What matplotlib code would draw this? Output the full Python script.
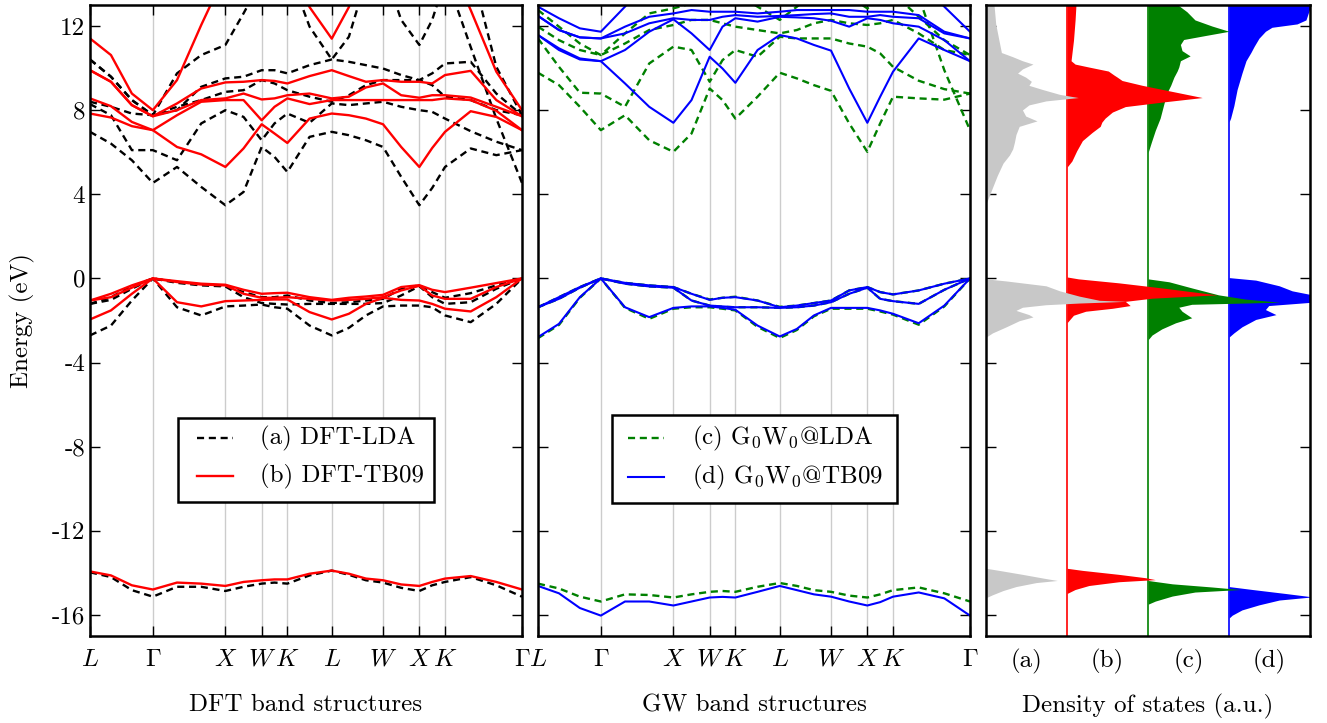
import numpy as np
import matplotlib
matplotlib.use('Agg')
import matplotlib.pyplot as plt
from matplotlib.patches import Rectangle
from matplotlib.lines import Line2D

plt.rcParams['font.family'] = ['cmr10', 'DejaVu Serif']
plt.rcParams['mathtext.fontset'] = 'cm'
plt.rcParams['axes.unicode_minus'] = False
plt.rcParams['font.size'] = 18

# ---------------- k-path ----------------
K_TICKS = [0.0, 0.866, 1.866, 2.366, 2.720, 3.332, 4.039, 4.539, 4.893, 5.954]
K_LABELS = [r'$L$', r'$\Gamma$', r'$X$', r'$W$', r'$K$', r'$L$', r'$W$', r'$X$', r'$K$', r'$\Gamma$']
K_PATH = [0.0, 0.289, 0.577, 0.866, 1.199, 1.533, 1.866, 2.116, 2.366, 2.543,
          2.720, 3.026, 3.332, 3.568, 3.803, 4.039, 4.289, 4.539, 4.716, 4.893,
          5.247, 5.600, 5.954]

# ---------------- DFT-LDA (a) ----------------
LDA_COND = [
    [6.97, 6.41, 5.62, 4.54, 5.30, 4.35, 3.48, 4.11, 6.25, 5.78, 5.06, 6.73, 6.97, 6.81, 6.57, 6.25, 4.83, 3.48, 4.30, 5.30, 6.18, 5.86, 6.10],
    [8.29, 7.76, 6.10, 6.10, 5.62, 7.37, 8.00, 7.68, 6.57, 7.37, 7.84, 7.40, 8.32, 8.24, 8.32, 8.40, 8.16, 8.00, 7.92, 7.60, 7.00, 6.50, 6.10],
    [8.40, 8.16, 7.84, 7.76, 8.16, 8.48, 8.87, 8.95, 9.43, 9.27, 8.95, 8.64, 8.40, 8.71, 9.19, 9.43, 9.43, 9.43, 9.19, 8.64, 8.48, 8.00, 7.76],
    [10.41, 9.59, 8.48, 7.76, 8.00, 9.11, 9.51, 9.59, 9.90, 9.90, 9.75, 10.14, 10.41, 10.30, 10.14, 9.98, 9.67, 9.43, 9.75, 10.22, 10.30, 8.79, 7.76],
    [10.41, 9.59, 8.48, 7.76, 9.75, 10.62, 11.10, 12.60, 14.19, 14.83, 14.83, 11.97, 10.41, 11.49, 14.19, 14.83, 12.29, 11.10, 12.29, 14.19, 14.83, 10.06, 7.76],
    [15.0, 15.0, 15.0, 15.0, 15.0, 15.0, 15.0, 15.0, 15.0, 15.0, 15.0, 15.0, 15.0, 15.0, 15.0, 15.0, 15.0, 15.0, 15.0, 14.5, 11.00, 7.60, 4.54],
]
LDA_VAL = [
    [-1.21, -0.89, -0.38, 0.0, -0.17, -0.29, -0.35, -0.65, -0.89, -0.89, -0.81, -1.05, -1.17, -1.13, -1.05, -0.97, -0.49, -0.33, -0.65, -0.92, -0.70, -0.33, 0.0],
    [-1.21, -1.02, -0.49, 0.0, -0.21, -0.33, -0.38, -0.89, -1.17, -1.21, -1.24, -1.21, -1.21, -1.21, -1.21, -1.17, -0.81, -0.37, -0.89, -1.21, -1.13, -0.49, 0.0],
    [-2.71, -2.24, -1.05, 0.0, -1.37, -1.76, -1.33, -1.29, -1.24, -1.37, -1.44, -2.24, -2.71, -2.35, -1.76, -1.33, -1.29, -1.29, -1.37, -1.76, -2.08, -1.21, 0.0],
]
LDA_CORE = [-13.97, -14.20, -14.82, -15.13, -14.66, -14.66, -14.86, -14.66, -14.51, -14.46, -14.51, -14.12, -13.89, -14.09, -14.35, -14.46, -14.71, -14.86, -14.59, -14.43, -14.20, -14.59, -15.13]

# ---------------- DFT-TB09 (b) ----------------
TB09_COND = [
    [7.84, 7.65, 7.24, 7.05, 6.25, 5.90, 5.30, 6.18, 7.33, 6.89, 6.44, 7.60, 7.84, 7.76, 7.60, 7.33, 6.25, 5.30, 6.20, 6.97, 7.95, 7.68, 7.05],
    [8.56, 8.19, 7.44, 7.05, 7.76, 8.40, 8.48, 8.48, 7.52, 8.16, 8.56, 8.29, 8.48, 8.48, 8.48, 8.48, 8.48, 8.48, 8.48, 8.56, 8.48, 7.97, 7.05],
    [9.90, 9.35, 8.24, 7.71, 8.00, 8.48, 8.56, 8.79, 8.51, 8.56, 8.71, 8.79, 8.56, 8.64, 9.08, 9.27, 8.71, 8.59, 8.71, 8.71, 8.60, 8.16, 7.71],
    [9.90, 9.35, 8.24, 7.71, 8.32, 9.03, 9.32, 9.35, 9.43, 9.39, 9.27, 9.62, 9.90, 9.62, 9.35, 9.43, 9.35, 9.35, 9.27, 9.67, 9.87, 8.48, 7.71],
    [11.41, 10.62, 8.79, 8.00, 9.43, 12.05, 14.50, 15.50, 16.00, 16.00, 15.50, 12.90, 11.40, 12.90, 15.50, 16.00, 16.00, 16.00, 16.00, 15.50, 12.76, 9.83, 8.00],
]
TB09_VAL = [
    [-1.05, -0.73, -0.33, 0.0, -0.13, -0.25, -0.30, -0.54, -0.73, -0.70, -0.68, -0.89, -1.02, -0.92, -0.86, -0.78, -0.41, -0.32, -0.54, -0.65, -0.44, -0.22, 0.0],
    [-1.05, -0.89, -0.44, 0.0, -0.17, -0.29, -0.33, -0.73, -0.92, -0.92, -0.89, -0.97, -1.05, -1.02, -0.97, -0.89, -0.57, -0.35, -0.81, -0.97, -0.97, -0.41, 0.0],
    [-1.95, -1.52, -0.73, 0.0, -1.13, -1.33, -1.08, -1.05, -1.02, -1.00, -1.00, -1.60, -1.95, -1.68, -1.21, -0.92, -1.02, -1.05, -1.21, -1.44, -1.57, -0.89, 0.0],
]
TB09_CORE = [-13.93, -14.12, -14.59, -14.79, -14.46, -14.51, -14.62, -14.43, -14.35, -14.31, -14.31, -14.04, -13.89, -14.04, -14.27, -14.35, -14.55, -14.62, -14.43, -14.27, -14.15, -14.43, -14.79]

# ---------------- G0W0@LDA (c) ----------------
GWLDA_COND = [
    [9.78, 9.19, 8.16, 7.05, 7.76, 6.57, 6.02, 6.89, 9.03, 8.48, 7.60, 8.64, 9.78, 9.51, 9.19, 8.92, 7.37, 6.02, 7.37, 8.64, 8.56, 8.50, 8.79],
    [11.41, 10.06, 8.83, 8.79, 8.16, 10.22, 11.02, 10.86, 9.35, 10.38, 10.86, 10.54, 11.49, 11.41, 11.41, 11.41, 11.17, 11.02, 10.70, 10.06, 9.40, 9.00, 8.79],
    [11.97, 11.33, 10.86, 10.62, 11.17, 11.81, 12.05, 12.29, 12.29, 12.13, 11.97, 11.81, 11.65, 11.81, 12.13, 12.29, 12.13, 12.05, 12.13, 12.29, 11.65, 10.86, 10.62],
    [12.76, 11.97, 11.17, 10.62, 11.65, 12.60, 12.84, 13.08, 13.56, 13.56, 13.56, 12.92, 12.29, 12.92, 13.56, 13.56, 13.40, 12.84, 13.24, 13.56, 12.44, 11.33, 10.62],
    [15.5, 15.5, 15.5, 15.5, 15.5, 15.5, 15.5, 15.5, 15.5, 15.5, 15.5, 15.5, 15.5, 15.5, 15.5, 15.5, 15.5, 15.5, 15.5, 15.5, 13.40, 9.90, 7.05],
]
GWLDA_VAL = [
    [-1.37, -0.89, -0.41, 0.0, -0.21, -0.33, -0.41, -0.73, -1.00, -0.92, -0.87, -1.05, -1.35, -1.29, -1.17, -1.05, -0.57, -0.41, -0.65, -0.76, -0.57, -0.25, 0.0],
    [-1.37, -0.97, -0.44, 0.0, -0.25, -0.38, -0.44, -1.05, -1.29, -1.35, -1.37, -1.37, -1.40, -1.37, -1.29, -1.13, -0.73, -0.44, -0.97, -1.08, -1.21, -0.54, 0.0],
    [-2.84, -2.21, -0.92, 0.0, -1.40, -1.92, -1.44, -1.37, -1.37, -1.44, -1.52, -2.30, -2.83, -2.45, -1.80, -1.44, -1.44, -1.44, -1.57, -1.72, -2.20, -1.33, 0.0],
]
GWLDA_CORE = [-14.51, -14.74, -15.13, -15.36, -15.02, -15.05, -15.17, -15.02, -14.90, -14.86, -14.90, -14.66, -14.48, -14.62, -14.82, -14.90, -15.08, -15.17, -15.02, -14.82, -14.69, -14.97, -15.36]

# ---------------- G0W0@TB09 (d) ----------------
GWTB_COND = [
    [11.57, 10.86, 10.41, 10.33, 9.27, 8.16, 7.40, 8.48, 10.54, 9.98, 9.30, 10.86, 11.57, 11.41, 11.10, 10.83, 9.03, 7.40, 8.64, 9.83, 11.41, 10.86, 10.33],
    [11.57, 10.94, 10.46, 10.33, 10.86, 11.73, 12.32, 11.65, 10.86, 11.97, 12.37, 12.21, 12.44, 12.41, 12.37, 12.25, 11.97, 12.37, 12.29, 12.13, 11.97, 11.33, 10.33],
    [12.48, 11.81, 11.46, 11.41, 11.65, 12.13, 12.37, 12.29, 12.29, 12.44, 12.52, 12.44, 12.48, 12.52, 12.57, 12.60, 12.44, 12.44, 12.52, 12.44, 12.37, 11.65, 11.41],
    [12.48, 11.81, 11.46, 11.41, 11.97, 12.44, 12.60, 12.76, 12.68, 12.68, 12.68, 12.60, 12.68, 12.76, 12.76, 12.76, 12.76, 12.68, 12.68, 12.68, 12.52, 11.73, 11.41],
    [12.92, 12.37, 11.89, 11.73, 12.92, 14.19, 15.14, 15.62, 15.62, 15.62, 15.62, 14.83, 14.03, 14.83, 15.62, 15.62, 15.62, 15.62, 15.62, 15.62, 14.19, 12.92, 11.73],
]
GWTB_VAL = [
    [-1.37, -0.89, -0.41, 0.0, -0.21, -0.33, -0.41, -0.73, -1.02, -0.92, -0.89, -1.05, -1.37, -1.29, -1.17, -1.05, -0.57, -0.41, -0.65, -0.76, -0.57, -0.25, 0.0],
    [-1.37, -0.97, -0.44, 0.0, -0.25, -0.38, -0.44, -1.05, -1.29, -1.33, -1.37, -1.37, -1.40, -1.37, -1.29, -1.13, -0.73, -0.44, -0.97, -1.08, -1.21, -0.54, 0.0],
    [-2.79, -2.16, -0.89, 0.0, -1.37, -1.84, -1.40, -1.33, -1.33, -1.40, -1.49, -2.24, -2.76, -2.40, -1.76, -1.40, -1.40, -1.40, -1.52, -1.68, -2.13, -1.29, 0.0],
]
GWTB_CORE = [-14.62, -14.97, -15.67, -16.03, -15.36, -15.36, -15.55, -15.36, -15.17, -15.14, -15.17, -14.90, -14.62, -14.82, -15.02, -15.13, -15.36, -15.55, -15.39, -15.13, -14.93, -15.21, -16.03]

# ---------------- Densities of states ----------------
DOS_A_E = [13.0, 12.97, 12.10, 11.32, 10.74, 10.54, 10.35, 10.19, 9.96, 9.76, 9.57, 9.37, 9.18, 8.98, 8.75, 8.60, 8.44, 8.25, 8.01, 7.72, 7.49, 7.23, 6.84, 6.46, 6.16, 5.87, 5.48, 4.90, 4.32, 3.73, 3.54,
           -0.02, -0.12, -0.35, -0.59, -0.84, -1.04, -1.09, -1.17, -1.25, -1.37, -1.52, -1.72, -1.83, -2.01, -2.30, -2.59, -2.79,
           -13.78, -13.88, -14.07, -14.27, -14.36, -14.46, -14.65, -14.84, -15.04, -15.18, -17.0]
DOS_A_V = [0.10, 0.10, 0.12, 0.16, 0.19, 0.33, 0.45, 0.58, 0.45, 0.39, 0.49, 0.56, 0.53, 0.70, 0.91, 1.14, 0.74, 0.53, 0.45, 0.49, 0.63, 0.41, 0.37, 0.35, 0.33, 0.29, 0.21, 0.14, 0.08, 0.02, 0.0,
           0.0, 0.25, 0.74, 0.91, 1.15, 1.40, 1.73, 1.15, 0.74, 0.45, 0.37, 0.53, 0.58, 0.41, 0.25, 0.08, 0.0,
           0.0, 0.16, 0.45, 0.74, 0.88, 0.62, 0.37, 0.21, 0.08, 0.0, 0.0]

DOS_B_E = [13.0, 12.97, 12.29, 11.32, 10.35, 10.19, 10.05, 9.86, 9.67, 9.57, 9.41, 9.18, 8.89, 8.60, 8.40, 8.17, 7.91, 7.62, 7.43, 7.23, 6.94, 6.55, 6.07, 5.58, 5.29,
           0.07, -0.02, -0.21, -0.45, -0.65, -0.78, -0.94, -1.09, -1.29, -1.42, -1.56, -1.75, -2.11,
           -13.78, -13.88, -14.07, -14.23, -14.32, -14.42, -14.60, -14.79, -14.98, -17.0]
DOS_B_V = [0.11, 0.11, 0.10, 0.08, 0.05, 0.10, 0.27, 0.51, 0.58, 0.62, 0.68, 0.93, 1.30, 1.67, 1.21, 0.72, 0.56, 0.47, 0.43, 0.41, 0.31, 0.19, 0.12, 0.06, 0.0,
           0.0, 0.14, 0.64, 1.17, 1.58, 1.85, 1.05, 0.72, 0.78, 0.56, 0.23, 0.08, 0.0,
           0.0, 0.19, 0.64, 0.97, 1.09, 0.64, 0.27, 0.10, 0.0, 0.0]

DOS_C_E = [13.0, 12.97, 12.68, 12.29, 12.00, 11.75, 11.55, 11.36, 11.12, 10.83, 10.58, 10.35, 10.05, 9.86, 9.57, 9.18, 8.79, 8.21, 7.62, 7.04, 6.46, 5.97,
           -0.02, -0.16, -0.45, -0.78, -0.98, -1.13, -1.23, -1.37, -1.56, -1.87, -2.11, -2.40, -2.69, -2.92,
           -14.36, -14.52, -14.67, -14.79, -14.91, -15.10, -15.34, -15.49, -17.0]
DOS_C_V = [0.38, 0.38, 0.48, 0.58, 0.79, 1.00, 0.71, 0.44, 0.40, 0.42, 0.52, 0.40, 0.38, 0.36, 0.32, 0.28, 0.23, 0.19, 0.15, 0.09, 0.04, 0.0,
           0.0, 0.26, 0.54, 0.87, 1.20, 1.63, 0.54, 0.38, 0.42, 0.54, 0.34, 0.17, 0.05, 0.0,
           0.0, 0.30, 0.79, 1.14, 0.58, 0.30, 0.09, 0.0, 0.0]

DOS_D_E = [13.0, 12.97, 12.29, 12.10, 11.94, 11.75, 11.42, 11.03, 10.74, 10.35, 9.76, 8.98, 8.21, 7.62, 7.43,
           0.04, -0.08, -0.35, -0.59, -0.78, -1.13, -1.29, -1.48, -1.72, -1.95, -2.30, -2.59, -2.79,
           -14.65, -14.79, -14.98, -15.14, -15.29, -15.52, -15.76, -16.01, -16.15, -17.0]
DOS_D_V = [1.01, 1.01, 0.95, 0.84, 0.53, 0.45, 0.37, 0.31, 0.27, 0.21, 0.16, 0.10, 0.06, 0.02, 0.0,
           0.0, 0.33, 0.62, 0.78, 1.03, 1.03, 0.49, 0.45, 0.58, 0.33, 0.16, 0.06, 0.0,
           0.0, 0.29, 0.70, 1.03, 0.62, 0.37, 0.16, 0.04, 0.0, 0.0]

Y_TICKS = [12, 8, 4, 0, -4, -8, -12, -16]
Y_TICKLABELS = ['12', '8', '4', '0', '-4', '-8', '-12', '-16']
DOS_LABELS = ['(a)', '(b)', '(c)', '(d)']
DOS_BASES = [0, 1, 2, 3]
LEGEND1 = ['(a) DFT-LDA', '(b) DFT-TB09']
LEGEND2 = [r'(c) $\mathrm{G_0W_0}$@LDA', r'(d) $\mathrm{G_0W_0}$@TB09']

# ---------------- figure ----------------
fig = plt.figure(figsize=(13.27, 7.23), dpi=100)
ax1 = fig.add_axes([90/1327, 1-636/723, 432/1327, 631/723])
ax2 = fig.add_axes([538/1327, 1-636/723, 432/1327, 631/723])
ax3 = fig.add_axes([986/1327, 1-636/723, 324/1327, 631/723])

GRAY = '#cccccc'


def style_band_axes(ax, show_ylabels):
    ax.set_xlim(K_TICKS[0], K_TICKS[-1])
    ax.set_ylim(-17, 13)
    for kx in K_TICKS[1:-1]:
        ax.axvline(kx, color=GRAY, lw=1.0, zorder=0)
    ax.set_xticks(K_TICKS)
    ax.set_xticklabels(K_LABELS)
    ax.set_yticks(Y_TICKS)
    if show_ylabels:
        ax.set_yticklabels(Y_TICKLABELS)
    else:
        ax.set_yticklabels([])
    ax.tick_params(axis='both', direction='in', length=7, width=1.0,
                   top=True, right=True, labelsize=18)
    ax.tick_params(axis='x', pad=9)
    for s in ax.spines.values():
        s.set_linewidth(1.8)
        s.set_zorder(10)


def draw_set(ax, bands_list, **kw):
    for bands in bands_list:
        for b in bands:
            ax.plot(K_PATH, b, **kw)


def manual_legend(ax, box, rows, handle_x, text_x, styles, labels):
    x0, y0, x1, y1 = box
    ax.add_patch(Rectangle((x0, y0), x1 - x0, y1 - y0, transform=ax.transAxes,
                           facecolor='white', edgecolor='black', lw=1.8, zorder=20))
    for ry, st, lab in zip(rows, styles, labels):
        ax.add_line(Line2D(handle_x, [ry, ry], transform=ax.transAxes,
                           **dict(st, zorder=21)))
        ax.text(text_x, ry, lab, transform=ax.transAxes, ha='left', va='center',
                fontsize=18, zorder=22)


# Panel 1: DFT
black_kw = dict(color='black', lw=1.7, ls=(0, (3, 2)), zorder=2)
red_kw = dict(color='red', lw=1.7, ls='-', zorder=3)
draw_set(ax1, [LDA_COND, LDA_VAL, [LDA_CORE]], **black_kw)
draw_set(ax1, [TB09_COND, TB09_VAL, [TB09_CORE]], **red_kw)
style_band_axes(ax1, True)
ax1.set_ylabel('Energy (eV)', fontsize=18)
ax1.yaxis.set_label_coords(-0.127, 0.5)
ax1.set_xlabel('DFT band structures', fontsize=18)
ax1.xaxis.set_label_coords(0.5, -0.092)
manual_legend(ax1, (0.2037, 0.2128, 0.7963, 0.3455), [0.3133, 0.2536],
              [0.2470, 0.3303], 0.3935,
              [dict(color='black', lw=1.7, ls=(0, (3, 2))), dict(color='red', lw=1.7, ls='-')],
              LEGEND1)

# Panel 2: GW
green_kw = dict(color='green', lw=1.7, ls=(0, (3, 2)), zorder=2)
blue_kw = dict(color='blue', lw=1.5, ls='-', zorder=3)
draw_set(ax2, [GWLDA_COND, GWLDA_VAL, [GWLDA_CORE]], **green_kw)
draw_set(ax2, [GWTB_COND, GWTB_VAL, [GWTB_CORE]], **blue_kw)
style_band_axes(ax2, False)
ax2.set_xlabel('GW band structures', fontsize=18)
ax2.xaxis.set_label_coords(0.5, -0.092)
manual_legend(ax2, (0.1706, 0.2108, 0.8303, 0.3502), [0.3138, 0.2520],
              [0.2083, 0.2917], 0.3558,
              [dict(color='green', lw=1.7, ls=(0, (3, 2))), dict(color='blue', lw=1.5, ls='-')],
              LEGEND2)

# Panel 3: DOS
dos_sets = [(DOS_D_E, DOS_D_V, 'blue', 3), (DOS_C_E, DOS_C_V, 'green', 2),
            (DOS_B_E, DOS_B_V, 'red', 1), (DOS_A_E, DOS_A_V, '#c8c8c8', 0)]
for i, (E, V, col, base) in enumerate(dos_sets):
    E = np.array(E)
    V = np.array(V)
    ax3.fill_betweenx(E, base, base + V, color=col, lw=0, zorder=2 + i)
    if base > 0:
        ax3.axvline(base, color=col, lw=1.2, zorder=2 + i)
ax3.set_xlim(0, 4)
ax3.set_ylim(-17, 13)
ax3.set_yticks(Y_TICKS)
ax3.set_yticklabels([])
ax3.set_xticks([b + 0.5 for b in DOS_BASES])
ax3.set_xticklabels(DOS_LABELS)
ax3.tick_params(axis='y', direction='in', length=7, width=1.0, left=True, right=True)
ax3.tick_params(axis='x', length=0, pad=9, labelsize=18)
for s in ax3.spines.values():
    s.set_linewidth(1.8)
    s.set_zorder(10)
ax3.set_xlabel('Density of states (a.u.)', fontsize=18)
ax3.xaxis.set_label_coords(0.5, -0.092)

fig.savefig('out.png', dpi=100)
